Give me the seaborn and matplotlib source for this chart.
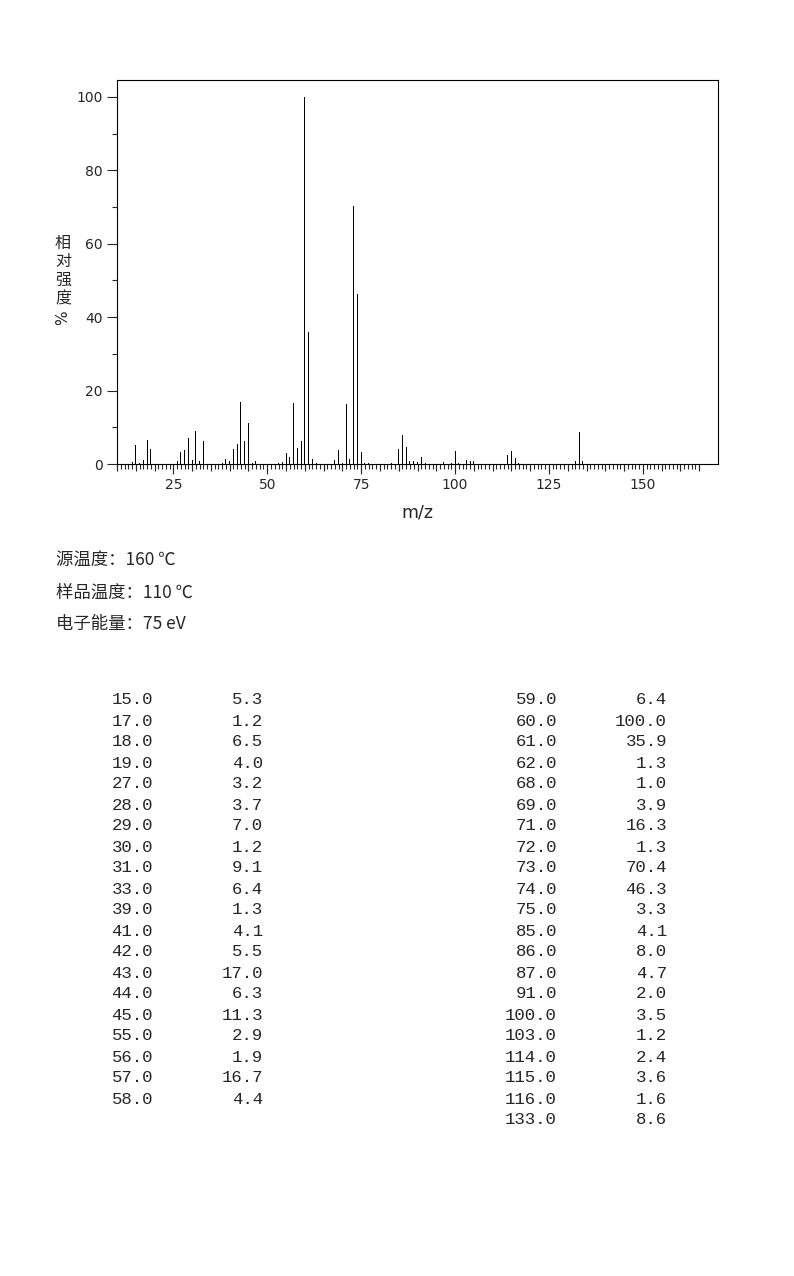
import pandas as pd
import seaborn as sns
import matplotlib.pyplot as plt
from matplotlib.ticker import FixedLocator, NullFormatter

# Picos listados na tabela (m/z, intensidade relativa %)
mz_left = [15.0, 17.0, 18.0, 19.0, 27.0, 28.0, 29.0, 30.0, 31.0, 33.0,
           39.0, 41.0, 42.0, 43.0, 44.0, 45.0, 55.0, 56.0, 57.0, 58.0]
int_left = [5.3, 1.2, 6.5, 4.0, 3.2, 3.7, 7.0, 1.2, 9.1, 6.4,
            1.3, 4.1, 5.5, 17.0, 6.3, 11.3, 2.9, 1.9, 16.7, 4.4]
mz_right = [59.0, 60.0, 61.0, 62.0, 68.0, 69.0, 71.0, 72.0, 73.0, 74.0,
            75.0, 85.0, 86.0, 87.0, 91.0, 100.0, 103.0, 114.0, 115.0, 116.0, 133.0]
int_right = [6.4, 100.0, 35.9, 1.3, 1.0, 3.9, 16.3, 1.3, 70.4, 46.3,
             3.3, 4.1, 8.0, 4.7, 2.0, 3.5, 1.2, 2.4, 3.6, 1.6, 8.6]

# Picos pequenos (<1 %) visiveis so no grafico (estimados)
mz_small = [14, 16, 26, 32, 38, 40, 46, 47, 53, 54, 63, 70, 76, 77, 83,
            88, 89, 90, 92, 97, 99, 101, 104, 105, 117, 132, 134]
int_small = [0.6, 0.3, 0.7, 0.7, 0.4, 0.9, 0.3, 0.7, 0.3, 0.6, 0.4, 0.4, 0.4, 0.3, 0.3,
             0.7, 0.7, 0.5, 0.3, 0.5, 0.4, 0.3, 0.7, 0.7, 0.3, 0.7, 0.8]

info_lines = ['源温度：160 ℃', '样品温度：110 ℃', '电子能量：75 eV']
ylabel_chars = ['相', '对', '强', '度']

df = pd.DataFrame({
    'mz': mz_left + mz_right + [float(v) for v in mz_small],
    'intensidade': int_left + int_right + int_small,
})

sns.set_style('white')
plt.rcParams['font.family'] = ['DejaVu Sans']

W, H = 794, 1276
fig = plt.figure(figsize=(W / 100, H / 100), dpi=100)
ax = fig.add_axes([117 / W, 1 - 464 / H, 601 / W, 384 / H])

sns.barplot(data=df, x='mz', y='intensidade', native_scale=True, width=0.27,
            color='black', linewidth=0, errorbar=None, antialiased=False, ax=ax)

ax.set_xlim(10, 170)
ax.set_ylim(0, 104.6)

for s in ax.spines.values():
    s.set_color('black')
    s.set_linewidth(0.8)

# eixo x: maior a cada 25, menor a cada 1
ax.xaxis.set_major_locator(FixedLocator([25, 50, 75, 100, 125, 150]))
ax.xaxis.set_minor_locator(FixedLocator(list(range(10, 166))))
ax.tick_params(axis='x', which='major', direction='out', length=7.2, width=0.8,
               pad=3, labelsize=10, labelfontfamily='DejaVu Sans', bottom=True)
ax.tick_params(axis='x', which='minor', direction='out', length=3.6, width=0.8, bottom=True)

# ticks intermediarios a cada 5
sec = ax.secondary_xaxis('bottom')
sec.xaxis.set_major_locator(FixedLocator(list(range(10, 166, 5))))
sec.xaxis.set_major_formatter(NullFormatter())
sec.tick_params(axis='x', length=5, width=0.8, direction='out')
sec.spines['bottom'].set_visible(False)

# eixo y
ax.yaxis.set_major_locator(FixedLocator([0, 20, 40, 60, 80, 100]))
ax.yaxis.set_minor_locator(FixedLocator([10, 30, 50, 70, 90]))
ax.tick_params(axis='y', which='major', direction='out', length=7.2, width=0.8,
               pad=3, labelsize=10, labelfontfamily='DejaVu Sans', left=True)
ax.tick_params(axis='y', which='minor', direction='out', length=3.6, width=0.8, left=True)

ax.set_xlabel('m/z', fontsize=12.5, labelpad=8, family='DejaVu Sans')
ax.set_ylabel('')

# rotulo vertical do eixo y
for i, ch in enumerate(ylabel_chars):
    fig.text(63 / W, 1 - (243 + 18.7 * i) / H, ch, ha='center', va='center',
             fontsize=11.5, family=['Noto Sans CJK SC'])
fig.text(63 / W, 1 - 318 / H, '%', ha='center', va='center', rotation=90,
         fontsize=11, family='DejaVu Sans')

# condicoes experimentais
for i, line in enumerate(info_lines):
    fig.text(56 / W, 1 - (561 + 31.5 * i) / H, line, ha='left', va='center',
             fontsize=12.5, family=['Noto Sans CJK SC', 'DejaVu Sans'])

# tabela de picos
for i, (m, v) in enumerate(zip(mz_left, int_left)):
    y = 1 - (700 + 21 * i) / H
    fig.text(153 / W, y, f'{m:.1f}', ha='right', va='center', fontsize=12.5, family='Liberation Mono')
    fig.text(263 / W, y, f'{v:.1f}', ha='right', va='center', fontsize=12.5, family='Liberation Mono')
for i, (m, v) in enumerate(zip(mz_right, int_right)):
    y = 1 - (700 + 21 * i) / H
    fig.text(557 / W, y, f'{m:.1f}', ha='right', va='center', fontsize=12.5, family='Liberation Mono')
    fig.text(667 / W, y, f'{v:.1f}', ha='right', va='center', fontsize=12.5, family='Liberation Mono')

fig.savefig('out.png', dpi=100)
